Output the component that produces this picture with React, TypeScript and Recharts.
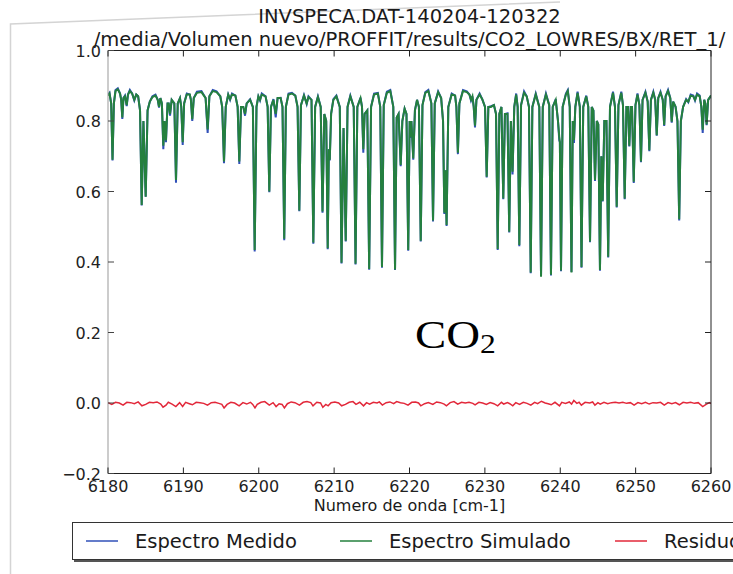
import React from 'react';
import { LineChart, Line, XAxis, YAxis } from 'recharts';

const W = 733;
const H = 574;
// plot box (matplotlib axes) in page pixels
const PLOT = { left: 108, right: 711, top: 50.5, bottom: 473.5 };
const FONT = '"DejaVu Sans", Verdana, sans-serif';

const titulo = 'INVSPECA.DAT-140204-120322';
const subtitulo = '/media/Volumen nuevo/PROFFIT/results/CO2_LOWRES/BX/RET_1/';
const xLabel = 'Numero de onda [cm-1]';

const xTicks = [6180, 6190, 6200, 6210, 6220, 6230, 6240, 6250, 6260];
const yTicks = [-0.2, 0.0, 0.2, 0.4, 0.6, 0.8, 1.0];

const series = [
  { key: 'medido', name: 'Espectro Medido', color: '#3050b8' },
  { key: 'simulado', name: 'Espectro Simulado', color: '#24803e' },
  { key: 'residuo', name: 'Residuo', color: '#e2283a' },
];

// [numero de onda, medido, simulado]
const espectro = [
  [6180.00, 0.874, 0.872], [6180.20, 0.880, 0.878], [6180.42, 0.850, 0.850], [6180.60, 0.688, 0.690],
  [6180.78, 0.850, 0.850], [6181.00, 0.888, 0.885], [6181.30, 0.893, 0.890], [6181.60, 0.878, 0.878],
  [6181.75, 0.860, 0.860], [6181.90, 0.806, 0.810], [6182.05, 0.865, 0.865], [6182.25, 0.872, 0.870],
  [6182.48, 0.842, 0.845], [6182.65, 0.875, 0.875], [6182.90, 0.888, 0.885], [6183.20, 0.878, 0.878],
  [6183.49, 0.858, 0.860], [6183.75, 0.875, 0.875], [6184.00, 0.870, 0.870], [6184.25, 0.830, 0.830],
  [6184.47, 0.560, 0.562], [6184.70, 0.800, 0.800], [6185.00, 0.585, 0.585], [6185.25, 0.830, 0.830],
  [6185.55, 0.855, 0.855], [6185.90, 0.870, 0.868], [6186.30, 0.875, 0.872], [6186.60, 0.860, 0.860],
  [6186.77, 0.838, 0.840], [6186.95, 0.865, 0.865], [6187.15, 0.850, 0.850], [6187.34, 0.720, 0.730],
  [6187.50, 0.800, 0.800], [6187.69, 0.740, 0.745], [6187.90, 0.850, 0.850], [6188.05, 0.850, 0.850],
  [6188.23, 0.815, 0.820], [6188.45, 0.860, 0.860], [6188.80, 0.850, 0.850], [6189.02, 0.625, 0.633],
  [6189.25, 0.850, 0.850], [6189.55, 0.865, 0.865], [6189.72, 0.840, 0.840], [6189.91, 0.732, 0.740],
  [6190.10, 0.850, 0.850], [6190.45, 0.878, 0.875], [6190.85, 0.875, 0.875], [6191.00, 0.860, 0.860],
  [6191.18, 0.800, 0.805], [6191.38, 0.865, 0.865], [6191.80, 0.883, 0.880], [6192.40, 0.885, 0.882],
  [6192.95, 0.865, 0.865], [6193.22, 0.766, 0.776], [6193.45, 0.870, 0.870], [6193.90, 0.888, 0.885],
  [6194.40, 0.884, 0.882], [6194.90, 0.870, 0.870], [6195.15, 0.840, 0.840], [6195.39, 0.680, 0.685],
  [6195.62, 0.840, 0.840], [6195.95, 0.875, 0.875], [6196.20, 0.860, 0.862], [6196.45, 0.878, 0.875],
  [6196.90, 0.872, 0.872], [6197.20, 0.840, 0.840], [6197.42, 0.678, 0.685], [6197.65, 0.840, 0.840],
  [6197.95, 0.840, 0.840], [6198.18, 0.815, 0.820], [6198.40, 0.850, 0.850], [6198.85, 0.862, 0.860],
  [6199.22, 0.840, 0.840], [6199.46, 0.430, 0.434], [6199.70, 0.840, 0.840], [6199.95, 0.870, 0.870],
  [6200.17, 0.858, 0.860], [6200.40, 0.878, 0.875], [6200.90, 0.870, 0.870], [6201.18, 0.840, 0.840],
  [6201.40, 0.598, 0.600], [6201.62, 0.840, 0.840], [6201.95, 0.862, 0.860], [6202.25, 0.810, 0.820],
  [6202.50, 0.865, 0.865], [6202.90, 0.866, 0.865], [6203.15, 0.840, 0.840], [6203.38, 0.462, 0.466],
  [6203.60, 0.840, 0.840], [6203.95, 0.878, 0.875], [6204.40, 0.880, 0.878], [6204.85, 0.872, 0.872],
  [6205.15, 0.840, 0.840], [6205.38, 0.544, 0.546], [6205.60, 0.845, 0.845], [6206.00, 0.874, 0.872],
  [6206.36, 0.848, 0.850], [6206.60, 0.870, 0.868], [6207.00, 0.860, 0.860], [6207.24, 0.452, 0.455],
  [6207.48, 0.840, 0.840], [6207.85, 0.870, 0.868], [6208.22, 0.840, 0.840], [6208.46, 0.540, 0.543],
  [6208.70, 0.820, 0.820], [6208.95, 0.800, 0.800], [6209.15, 0.436, 0.439], [6209.30, 0.720, 0.720],
  [6209.42, 0.688, 0.690], [6209.60, 0.820, 0.820], [6209.90, 0.862, 0.860], [6210.30, 0.872, 0.870],
  [6210.75, 0.840, 0.840], [6210.98, 0.396, 0.398], [6211.25, 0.780, 0.780], [6211.54, 0.458, 0.460],
  [6211.78, 0.840, 0.840], [6212.15, 0.872, 0.870], [6212.60, 0.840, 0.840], [6212.84, 0.393, 0.395],
  [6213.08, 0.840, 0.840], [6213.50, 0.866, 0.865], [6213.70, 0.840, 0.840], [6213.87, 0.710, 0.720],
  [6214.05, 0.820, 0.820], [6214.40, 0.830, 0.830], [6214.65, 0.378, 0.380], [6214.90, 0.840, 0.840],
  [6215.30, 0.878, 0.875], [6215.80, 0.880, 0.878], [6216.12, 0.840, 0.840], [6216.35, 0.384, 0.386],
  [6216.58, 0.845, 0.845], [6217.00, 0.883, 0.880], [6217.45, 0.888, 0.885], [6217.85, 0.840, 0.840],
  [6218.08, 0.377, 0.379], [6218.30, 0.810, 0.810], [6218.55, 0.820, 0.820], [6218.83, 0.672, 0.675],
  [6219.05, 0.800, 0.800], [6219.35, 0.835, 0.835], [6219.60, 0.820, 0.820], [6219.83, 0.432, 0.434],
  [6220.02, 0.800, 0.800], [6220.10, 0.752, 0.755], [6220.25, 0.800, 0.800], [6220.50, 0.690, 0.694],
  [6220.72, 0.830, 0.830], [6221.00, 0.860, 0.860], [6221.25, 0.840, 0.840], [6221.49, 0.458, 0.460],
  [6221.72, 0.845, 0.845], [6222.10, 0.882, 0.880], [6222.50, 0.888, 0.885], [6222.90, 0.850, 0.850],
  [6223.12, 0.515, 0.518], [6223.35, 0.850, 0.850], [6223.80, 0.884, 0.882], [6224.20, 0.865, 0.865],
  [6224.45, 0.800, 0.800], [6224.62, 0.536, 0.540], [6224.76, 0.660, 0.660], [6224.92, 0.502, 0.505],
  [6225.15, 0.840, 0.840], [6225.60, 0.878, 0.875], [6226.05, 0.872, 0.872], [6226.22, 0.840, 0.840],
  [6226.42, 0.706, 0.710], [6226.62, 0.850, 0.850], [6227.10, 0.888, 0.885], [6227.60, 0.884, 0.882],
  [6227.95, 0.875, 0.875], [6228.16, 0.858, 0.860], [6228.35, 0.870, 0.870], [6228.52, 0.840, 0.840],
  [6228.69, 0.782, 0.787], [6228.88, 0.860, 0.860], [6229.30, 0.878, 0.875], [6229.65, 0.862, 0.862],
  [6230.02, 0.840, 0.840], [6230.24, 0.640, 0.642], [6230.46, 0.840, 0.840], [6230.80, 0.842, 0.840],
  [6231.20, 0.845, 0.845], [6231.48, 0.820, 0.820], [6231.70, 0.434, 0.437], [6231.92, 0.820, 0.820],
  [6232.20, 0.840, 0.840], [6232.44, 0.578, 0.580], [6232.66, 0.820, 0.820], [6233.00, 0.822, 0.820],
  [6233.23, 0.484, 0.486], [6233.45, 0.800, 0.800], [6233.67, 0.648, 0.656], [6233.90, 0.840, 0.840],
  [6234.15, 0.878, 0.875], [6234.35, 0.840, 0.840], [6234.57, 0.445, 0.448], [6234.80, 0.845, 0.845],
  [6235.20, 0.884, 0.880], [6235.55, 0.870, 0.870], [6235.85, 0.840, 0.840], [6236.08, 0.368, 0.370],
  [6236.30, 0.840, 0.840], [6236.75, 0.878, 0.875], [6237.22, 0.840, 0.840], [6237.45, 0.360, 0.358],
  [6237.68, 0.840, 0.840], [6238.10, 0.878, 0.875], [6238.54, 0.845, 0.845], [6238.77, 0.362, 0.364],
  [6239.00, 0.840, 0.840], [6239.40, 0.862, 0.860], [6239.70, 0.800, 0.800], [6239.87, 0.745, 0.755],
  [6239.95, 0.740, 0.740], [6240.10, 0.374, 0.376], [6240.32, 0.840, 0.840], [6240.75, 0.878, 0.875],
  [6241.00, 0.888, 0.885], [6241.26, 0.840, 0.840], [6241.49, 0.372, 0.370], [6241.66, 0.800, 0.800],
  [6241.82, 0.738, 0.746], [6242.00, 0.840, 0.840], [6242.30, 0.883, 0.880], [6242.60, 0.840, 0.840],
  [6242.82, 0.384, 0.386], [6243.05, 0.840, 0.840], [6243.45, 0.872, 0.870], [6243.72, 0.840, 0.840],
  [6243.95, 0.456, 0.458], [6244.18, 0.840, 0.840], [6244.40, 0.830, 0.830], [6244.61, 0.630, 0.633],
  [6244.85, 0.800, 0.800], [6245.05, 0.790, 0.790], [6245.27, 0.375, 0.377], [6245.45, 0.700, 0.700],
  [6245.63, 0.572, 0.574], [6245.85, 0.800, 0.800], [6246.13, 0.800, 0.800], [6246.36, 0.413, 0.415],
  [6246.60, 0.840, 0.840], [6247.00, 0.883, 0.880], [6247.26, 0.840, 0.840], [6247.49, 0.555, 0.557],
  [6247.72, 0.845, 0.845], [6248.10, 0.883, 0.880], [6248.32, 0.845, 0.845], [6248.55, 0.578, 0.580],
  [6248.78, 0.840, 0.840], [6248.98, 0.840, 0.840], [6249.16, 0.728, 0.730], [6249.35, 0.840, 0.840],
  [6249.52, 0.840, 0.840], [6249.75, 0.624, 0.628], [6249.98, 0.845, 0.845], [6250.25, 0.878, 0.875],
  [6250.50, 0.845, 0.845], [6250.71, 0.683, 0.685], [6250.92, 0.860, 0.860], [6251.30, 0.883, 0.880],
  [6251.60, 0.855, 0.855], [6251.82, 0.714, 0.717], [6252.03, 0.860, 0.860], [6252.35, 0.883, 0.880],
  [6252.60, 0.860, 0.860], [6252.80, 0.758, 0.760], [6253.00, 0.865, 0.865], [6253.30, 0.883, 0.880],
  [6253.60, 0.860, 0.860], [6253.79, 0.786, 0.789], [6253.98, 0.870, 0.870], [6254.30, 0.888, 0.885],
  [6254.60, 0.865, 0.865], [6254.79, 0.795, 0.798], [6254.98, 0.855, 0.855], [6255.30, 0.840, 0.840],
  [6255.55, 0.800, 0.800], [6255.78, 0.518, 0.521], [6256.00, 0.800, 0.800], [6256.30, 0.840, 0.840],
  [6256.70, 0.862, 0.860], [6256.99, 0.853, 0.855], [6257.30, 0.875, 0.872], [6257.65, 0.872, 0.870],
  [6257.88, 0.858, 0.860], [6258.15, 0.878, 0.875], [6258.50, 0.872, 0.870], [6258.72, 0.840, 0.840],
  [6258.90, 0.766, 0.775], [6259.10, 0.860, 0.860], [6259.25, 0.850, 0.850], [6259.42, 0.788, 0.790],
  [6259.62, 0.860, 0.860], [6260.00, 0.872, 0.872],
];

// [numero de onda, residuo]
const residuo = [
  [6180.0, 0.001], [6180.5, -0.004], [6181.0, 0.002], [6181.5, 0.000], [6182.0, -0.006], [6182.5, 0.002],
  [6183.0, 0.001], [6183.5, -0.002], [6184.0, 0.003], [6184.5, -0.008], [6185.0, -0.004], [6185.5, 0.002],
  [6186.0, 0.001], [6186.5, 0.003], [6187.0, -0.003], [6187.3, -0.012], [6187.7, -0.006], [6188.0, 0.002],
  [6188.5, -0.003], [6189.0, -0.010], [6189.5, 0.001], [6189.9, -0.010], [6190.3, 0.002], [6190.8, -0.002],
  [6191.2, -0.005], [6191.7, 0.002], [6192.2, 0.001], [6192.7, -0.001], [6193.2, -0.006], [6193.7, 0.001],
  [6194.2, 0.002], [6194.7, -0.001], [6195.1, -0.004], [6195.4, -0.014], [6195.8, -0.004], [6196.3, 0.002],
  [6196.8, 0.000], [6197.4, -0.008], [6197.9, 0.001], [6198.4, -0.003], [6198.9, 0.002], [6199.2, -0.004],
  [6199.5, -0.014], [6199.8, -0.004], [6200.3, 0.002], [6200.8, 0.004], [6201.4, -0.006], [6201.9, 0.001],
  [6202.3, -0.010], [6202.7, -0.002], [6203.1, -0.004], [6203.4, -0.014], [6203.8, -0.002], [6204.3, 0.003],
  [6204.8, 0.001], [6205.4, -0.006], [6205.9, 0.002], [6206.4, 0.004], [6206.9, 0.001], [6207.2, -0.008],
  [6207.7, 0.002], [6208.2, 0.000], [6208.5, -0.012], [6208.9, -0.004], [6209.2, -0.008], [6209.6, 0.001],
  [6210.1, 0.003], [6210.6, 0.000], [6211.0, -0.008], [6211.5, -0.004], [6212.0, 0.002], [6212.5, 0.004],
  [6212.9, -0.004], [6213.4, 0.002], [6213.9, -0.008], [6214.3, 0.001], [6214.7, -0.003], [6215.2, 0.002],
  [6215.7, 0.000], [6216.0, 0.003], [6216.4, -0.006], [6216.9, 0.001], [6217.4, 0.003], [6217.9, -0.002],
  [6218.3, 0.004], [6218.8, 0.001], [6219.3, -0.001], [6219.8, -0.006], [6220.3, 0.002], [6220.8, 0.003],
  [6221.2, 0.000], [6221.5, -0.008], [6222.0, -0.002], [6222.5, 0.001], [6223.1, -0.004], [6223.6, 0.003],
  [6224.1, 0.001], [6224.6, -0.003], [6224.9, -0.008], [6225.4, 0.001], [6225.9, 0.004], [6226.4, -0.003],
  [6226.9, 0.002], [6227.4, 0.000], [6227.9, 0.002], [6228.4, -0.001], [6228.7, -0.005], [6229.2, 0.002],
  [6229.7, 0.000], [6230.2, -0.004], [6230.7, 0.001], [6231.2, -0.002], [6231.7, -0.008], [6232.2, 0.002],
  [6232.5, -0.003], [6233.0, 0.001], [6233.3, -0.002], [6233.7, -0.008], [6234.1, 0.001], [6234.6, -0.004],
  [6235.1, 0.002], [6235.6, -0.001], [6236.1, -0.006], [6236.6, 0.002], [6237.0, -0.002], [6237.5, 0.005],
  [6238.0, 0.000], [6238.4, -0.002], [6238.8, -0.005], [6239.3, 0.002], [6239.9, -0.008], [6240.2, 0.002],
  [6240.7, -0.001], [6241.2, 0.003], [6241.5, -0.003], [6241.8, 0.007], [6242.2, -0.001], [6242.5, 0.002],
  [6242.8, -0.006], [6243.3, 0.002], [6243.9, 0.000], [6244.3, 0.003], [6244.6, -0.006], [6245.0, 0.001],
  [6245.3, -0.003], [6245.8, 0.002], [6246.3, -0.002], [6246.8, 0.001], [6247.3, 0.002], [6247.8, 0.000],
  [6248.3, 0.002], [6248.8, -0.001], [6249.3, 0.001], [6249.8, -0.006], [6250.3, 0.001], [6250.8, -0.002],
  [6251.3, 0.002], [6251.8, -0.003], [6252.3, 0.001], [6252.8, 0.000], [6253.3, 0.002], [6253.8, -0.006],
  [6254.3, 0.001], [6254.8, -0.002], [6255.3, 0.001], [6255.8, -0.005], [6256.3, 0.002], [6256.8, 0.000],
  [6257.3, 0.002], [6257.8, -0.001], [6258.3, 0.001], [6258.9, -0.010], [6259.4, -0.003], [6259.8, 0.001],
  [6260.0, -0.002],
];

const tabla = [
  ...espectro.map(([x, m, s]) => ({ x, medido: m, simulado: s })),
  ...residuo.map(([x, r]) => ({ x, residuo: r })),
].sort((a, b) => a.x - b.x);

const fmtY = (v: number) => (v < 0 ? '\u2212' : '') + Math.abs(v).toFixed(1);

const BottomTick = ({ x, payload }: any) => (
  <g>
    <line x1={x} x2={x} y1={PLOT.bottom} y2={PLOT.bottom - 6} stroke="#222" />
    <text x={x} y={PLOT.bottom + 18} textAnchor="middle" fontSize={16} fontFamily={FONT} fill="#222">
      {payload.value}
    </text>
  </g>
);

const TopTick = ({ x }: any) => (
  <line x1={x} x2={x} y1={PLOT.top} y2={PLOT.top + 6} stroke="#222" />
);

const LeftTick = ({ y, payload }: any) => (
  <g>
    <line x1={PLOT.left} x2={PLOT.left + 6} y1={y} y2={y} stroke="#444" />
    <text x={PLOT.left - 7} y={y + 6} textAnchor="end" fontSize={16} fontFamily={FONT} fill="#222">
      {fmtY(payload.value)}
    </text>
  </g>
);

const RightTick = ({ y }: any) => (
  <line x1={PLOT.right} x2={PLOT.right - 6} y1={y} y2={y} stroke="#222" />
);

export default function App() {
  const yAxisW = 60;
  const xAxisH = 30;
  return (
    <div style={{ position: 'absolute', left: 0, top: 0, width: W, height: H, overflow: 'hidden', background: '#fff' }}>
      <LineChart
        width={W}
        height={H}
        data={tabla}
        margin={{
          top: PLOT.top - 1,
          right: W - PLOT.right - 1,
          bottom: H - PLOT.bottom - xAxisH,
          left: PLOT.left - yAxisW,
        }}
      >
        <XAxis
          type="number"
          dataKey="x"
          domain={[6180, 6260]}
          ticks={xTicks}
          allowDataOverflow
          height={xAxisH}
          tickLine={false}
          axisLine={{ stroke: '#222' }}
          tick={<BottomTick />}
        />
        <XAxis
          xAxisId="top"
          orientation="top"
          type="number"
          dataKey="x"
          domain={[6180, 6260]}
          ticks={xTicks}
          allowDataOverflow
          height={1}
          tickLine={false}
          axisLine={{ stroke: '#222' }}
          tick={<TopTick />}
        />
        <YAxis
          type="number"
          domain={[-0.2, 1.0]}
          ticks={yTicks}
          allowDataOverflow
          width={yAxisW}
          tickLine={false}
          axisLine={{ stroke: '#999' }}
          tick={<LeftTick />}
        />
        <YAxis
          yAxisId="right"
          orientation="right"
          type="number"
          domain={[-0.2, 1.0]}
          ticks={yTicks}
          allowDataOverflow
          width={1}
          tickLine={false}
          axisLine={{ stroke: '#222' }}
          tick={<RightTick />}
        />
        {series.map((s) => (
          <Line
            key={s.key}
            type="linear"
            dataKey={s.key}
            name={s.name}
            stroke={s.color}
            strokeWidth={s.key === 'residuo' ? 1.5 : 2}
            dot={false}
            activeDot={false}
            connectNulls
            isAnimationActive={false}
          />
        ))}
      </LineChart>

      <svg
        width={W}
        height={H}
        style={{ position: 'absolute', left: 0, top: 0, pointerEvents: 'none' }}
      >
        {/* page edge of the scanned figure */}
        <polyline points="10.5,574 10.5,24 560,2" fill="none" stroke="#d4d4d4" strokeWidth={1.5} />

        <text x={(PLOT.left + PLOT.right) / 2} y={23} textAnchor="middle" fontSize={19.5} fontFamily={FONT} fill="#1a1a1a">
          {titulo}
        </text>
        <text x={(PLOT.left + PLOT.right) / 2} y={46} textAnchor="middle" fontSize={19.5} fontFamily={FONT} fill="#1a1a1a">
          {subtitulo}
        </text>
        <text x={(PLOT.left + PLOT.right) / 2} y={PLOT.bottom + 37} textAnchor="middle" fontSize={16} fontFamily={FONT} fill="#1a1a1a">
          {xLabel}
        </text>

        <g transform="translate(415 348) scale(1.17 1)">
          <text x={0} y={0} fontSize={40} fontFamily='"Liberation Serif", "Times New Roman", serif' fill="#000">
            CO<tspan fontSize={27} dy={5}>2</tspan>
          </text>
        </g>

        {/* legend below the axes, wider than the figure */}
        <rect x={74} y={524} width={700} height={38} fill="#555" />
        <rect x={72.5} y={522.5} width={700} height={37} fill="#fff" stroke="#333" />
        {series.map((s, i) => {
          const lx = [86, 340, 615][i];
          return (
            <g key={s.key}>
              <line x1={lx} x2={lx + 32} y1={541} y2={541} stroke={s.color} strokeWidth={1.5} />
              <text x={lx + 49} y={548} fontSize={19.5} fontFamily={FONT} fill="#1a1a1a">
                {s.name}
              </text>
            </g>
          );
        })}
      </svg>
    </div>
  );
}
